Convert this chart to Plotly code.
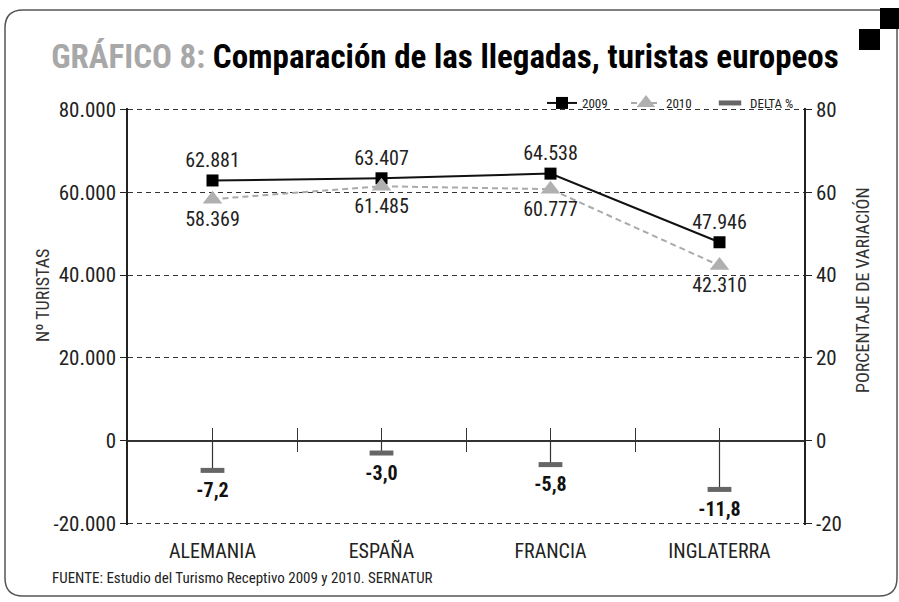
import plotly.graph_objects as go

categories = ["ALEMANIA", "ESPAÑA", "FRANCIA", "INGLATERRA"]
llegadas_2009 = [62881, 63407, 64538, 47946]
llegadas_2010 = [58369, 61485, 60777, 42310]
delta_pct = [-7.2, -3.0, -5.8, -11.8]

y_left_ticks = [-20000, 0, 20000, 40000, 60000, 80000]
y_left_labels = ["-20.000", "0", "20.000", "40.000", "60.000", "80.000"]
y_right_ticks = [-20, 0, 20, 40, 60, 80]
y_right_labels = ["-20", "0", "20", "40", "60", "80"]

FONT = "Liberation Sans Narrow, Roboto Condensed, DejaVu Sans Condensed, Arial Narrow, sans-serif"
W, H = 899, 602
ML, MR, MT, MB = 128, 95, 108, 77
PW, PH = W - ML - MR, H - MT - MB
PAD = 400  # small range padding so the edge gridlines are kept


def px(x):
    return (x - ML) / PW


def py(y):
    return (H - MB - y) / PH


def fmt_thousands(v):
    return f"{v:,}".replace(",", ".")


def fmt_pct(v):
    return f"{v:.1f}".replace(".", ",")


fig = go.Figure()

fig.add_trace(go.Scatter(
    x=categories, y=llegadas_2009, name="2009",
    mode="lines+markers+text",
    line=dict(color="#111111", width=2),
    marker=dict(symbol="square", size=12, color="#000000"),
    text=[fmt_thousands(v) for v in llegadas_2009],
    textposition="top center",
    textfont=dict(family=FONT, size=20, color="#222222"),
    cliponaxis=False,
))

fig.add_trace(go.Scatter(
    x=categories, y=llegadas_2010, name="2010",
    mode="lines+markers+text",
    line=dict(color="#aaaaaa", width=2, dash="6px,4px"),
    marker=dict(symbol="triangle-up", size=17, color="#b0b0b0"),
    text=[fmt_thousands(v) for v in llegadas_2010],
    textposition="bottom center",
    textfont=dict(family=FONT, size=20, color="#222222"),
    cliponaxis=False,
))

fig.add_trace(go.Scatter(
    x=categories, y=delta_pct, name="DELTA %", yaxis="y2",
    mode="markers+text",
    marker=dict(symbol="line-ew", size=17, color="#666666",
                line=dict(color="#666666", width=5)),
    error_y=dict(type="data", symmetric=False,
                 array=[-d for d in delta_pct], arrayminus=[0] * len(delta_pct),
                 color="#333333", thickness=1.2, width=0),
    text=["<b>" + fmt_pct(v) + "</b>" for v in delta_pct],
    textposition="bottom center",
    textfont=dict(family=FONT, size=20, color="#111111"),
    cliponaxis=False,
))

# helper traces so that the tick-only axes at the zero line are drawn
fig.add_trace(go.Scatter(x=[], y=[], xaxis="x2", yaxis="y", showlegend=False, hoverinfo="skip"))
fig.add_trace(go.Scatter(x=[], y=[], xaxis="x3", yaxis="y", showlegend=False, hoverinfo="skip"))

# rounded frame and corner squares
x0, y0, x1, y1, r = 5, 10, 897, 596, 18
frame = (f"M {px(x0)},{py(y0 + r)} L {px(x0)},{py(y1 - r)} Q {px(x0)},{py(y1)} {px(x0 + r)},{py(y1)} "
         f"L {px(x1 - r)},{py(y1)} Q {px(x1)},{py(y1)} {px(x1)},{py(y1 - r)} "
         f"L {px(x1)},{py(y0 + r)} Q {px(x1)},{py(y0)} {px(x1 - r)},{py(y0)} "
         f"L {px(x0 + r)},{py(y0)} Q {px(x0)},{py(y0)} {px(x0)},{py(y0 + r)} Z")
shapes = [
    dict(type="path", path=frame, xref="paper", yref="paper",
         line=dict(color="#555555", width=1.5), layer="below"),
    dict(type="rect", xref="paper", yref="paper", x0=px(880), x1=px(899), y0=py(8), y1=py(29),
         fillcolor="#000000", line=dict(width=0)),
    dict(type="rect", xref="paper", yref="paper", x0=px(859), x1=px(880), y0=py(29), y1=py(50),
         fillcolor="#000000", line=dict(width=0)),
]

zero_pos = (20000 + PAD) / (100000 + 2 * PAD)

fig.update_layout(
    width=W, height=H,
    margin=dict(l=ML, r=MR, t=MT, b=MB),
    paper_bgcolor="white", plot_bgcolor="white",
    separators=",.",
    font=dict(family=FONT, color="#222222"),
    title=dict(
        text="<span style='color:#a8a8a8'>GRÁFICO 8:</span> Comparación de las llegadas, turistas europeos",
        font=dict(family=FONT, size=33, color="#000000", weight="bold"),
        x=445 / W, xref="container", xanchor="center",
        y=1 - 56 / H, yref="container", yanchor="middle",
    ),
    xaxis=dict(
        type="category", categoryorder="array", categoryarray=categories,
        range=[-0.5, 3.5], showgrid=False, showline=False, zeroline=False,
        ticks="", tickfont=dict(family=FONT, size=20, color="#222222"),
        ticklabelstandoff=12,
    ),
    xaxis2=dict(
        overlaying="x", anchor="free", position=zero_pos, type="linear",
        range=[-0.5, 3.5], tickvals=[0, 0.5, 1, 1.5, 2, 2.5, 3],
        ticks="inside", ticklen=13, tickwidth=1.2, tickcolor="#333333",
        showticklabels=False, showgrid=False, showline=False, zeroline=False,
    ),
    xaxis3=dict(
        overlaying="x", anchor="free", position=zero_pos, type="linear",
        range=[-0.5, 3.5], tickvals=[0.5, 1.5, 2.5],
        ticks="outside", ticklen=10, tickwidth=1.2, tickcolor="#333333",
        showticklabels=False, showgrid=False, showline=False, zeroline=False,
    ),
    yaxis=dict(
        range=[-20000 - PAD, 80000 + PAD], tickvals=y_left_ticks, ticktext=y_left_labels,
        showgrid=True, gridcolor="#333333", gridwidth=1, griddash="5px,4px",
        showline=True, linecolor="#222222", linewidth=1.5,
        ticks="outside", ticklen=6, tickcolor="#222222",
        zeroline=True, zerolinecolor="#333333", zerolinewidth=2,
        tickfont=dict(family=FONT, size=21, color="#222222"),
    ),
    yaxis2=dict(
        overlaying="y", side="right", range=[-20 - PAD / 1000, 80 + PAD / 1000],
        tickvals=y_right_ticks, ticktext=y_right_labels,
        showgrid=False, zeroline=False, showline=True, linecolor="#222222", linewidth=1.5,
        ticks="outside", ticklen=6, tickcolor="#222222",
        tickfont=dict(family=FONT, size=21, color="#222222"),
    ),
    legend=dict(
        orientation="h", x=px(794), xanchor="right", y=py(103), yanchor="middle",
        bgcolor="rgba(0,0,0,0)", font=dict(family=FONT, size=13, color="#222222"),
        itemwidth=30, traceorder="normal", entrywidth=39, entrywidthmode="pixels",
    ),
    shapes=shapes,
    annotations=[
        dict(text="Nº TURISTAS", x=px(42), y=py(295), xref="paper", yref="paper",
             textangle=-90, showarrow=False, xanchor="center", yanchor="middle",
             font=dict(family=FONT, size=18, color="#333333")),
        dict(text="PORCENTAJE DE VARIACIÓN", x=px(862), y=py(290), xref="paper", yref="paper",
             textangle=-90, showarrow=False, xanchor="center", yanchor="middle",
             font=dict(family=FONT, size=18, color="#333333")),
        dict(text="FUENTE: Estudio del Turismo Receptivo 2009 y 2010. SERNATUR",
             x=px(50), y=py(578), xref="paper", yref="paper", showarrow=False,
             xanchor="left", yanchor="middle",
             font=dict(family=FONT, size=15, color="#222222")),
    ],
    showlegend=True,
)

fig.write_html("out.html", config={"displayModeBar": False},
               post_script="document.body.style.margin='0';document.body.style.padding='0';")
